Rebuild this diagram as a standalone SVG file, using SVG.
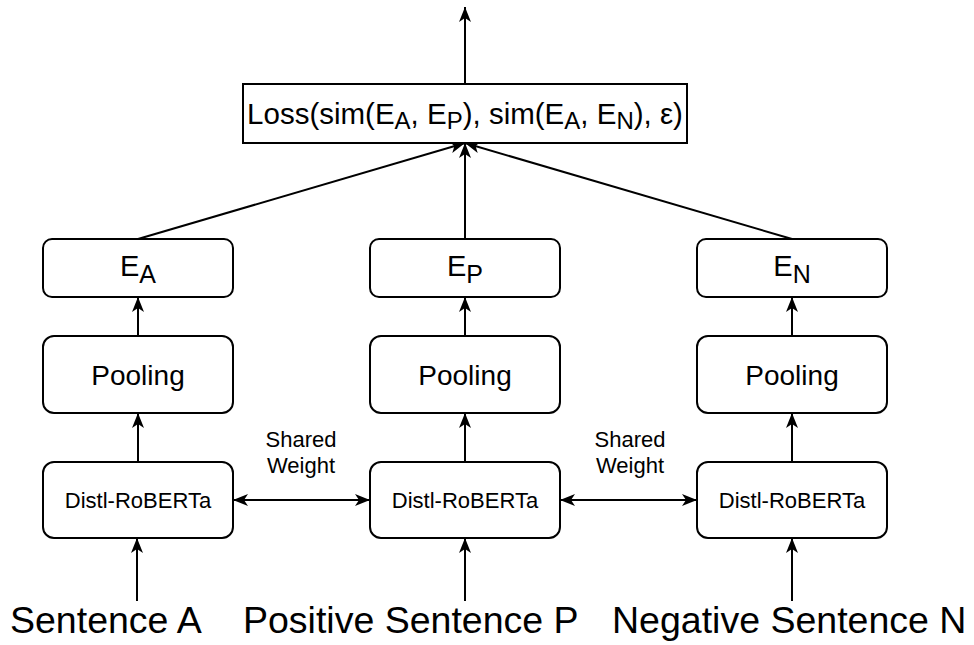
<svg xmlns="http://www.w3.org/2000/svg" width="974" height="645" viewBox="0 0 974 645">
  <defs>
    <marker id="arrow" viewBox="0 0 15 12" refX="15" refY="6" markerWidth="15" markerHeight="12" markerUnits="userSpaceOnUse" orient="auto-start-reverse">
      <path d="M0,0 L15,6 L0,12 L4,6 Z" fill="#000"/>
    </marker>
    <style>
      .box { fill: #fff; stroke: #000; stroke-width: 2; }
      .edge { fill: none; stroke: #000; stroke-width: 2; marker-end: url(#arrow); }
      .both { marker-start: url(#arrow); }
      text { font-family: "Liberation Sans", Arial, Helvetica, sans-serif; fill: #000; }
      .mid { text-anchor: middle; }
      .enc { font-size: 22px; }
      .pool { font-size: 28px; }
      .emb { font-size: 29px; }
      .loss { font-size: 29.5px; }
      .note { font-size: 22px; }
      .input { font-size: 37.5px; }
    </style>
  </defs>

  <!-- connectors -->
  <g id="connectors">
    <path class="edge" d="M465,84 L465,7"/>
    <path class="edge" d="M138,239 L465,143"/>
    <path class="edge" d="M465,239 L465,143"/>
    <path class="edge" d="M792,239 L465,143"/>
    <path class="edge" d="M138,336 L138,297"/>
    <path class="edge" d="M465,336 L465,297"/>
    <path class="edge" d="M792,336 L792,297"/>
    <path class="edge" d="M138,462 L138,413"/>
    <path class="edge" d="M465,462 L465,413"/>
    <path class="edge" d="M792,462 L792,413"/>
    <path class="edge" d="M137,601 L137,538"/>
    <path class="edge" d="M465,601 L465,538"/>
    <path class="edge" d="M792,601 L792,538"/>
    <path class="edge both" d="M233,500 L370,500"/>
    <path class="edge both" d="M560,500 L697,500"/>
  </g>

  <!-- loss node -->
  <g id="loss">
    <rect class="box" x="243" y="84" width="444" height="59"/>
    <text class="loss mid" x="465" y="124">Loss(sim(E<tspan font-size="24" dy="5">A</tspan><tspan dy="-5">, E</tspan><tspan font-size="24" dy="5">P</tspan><tspan dy="-5">), sim(E</tspan><tspan font-size="24" dy="5">A</tspan><tspan dy="-5">, E</tspan><tspan font-size="24" dy="5">N</tspan><tspan dy="-5">), ε)</tspan></text>
  </g>

  <!-- embeddings -->
  <g id="emb-a">
    <rect class="box" x="43" y="239" width="190" height="58" rx="9"/>
    <text class="emb mid" x="138" y="276">E<tspan font-size="25" dy="7">A</tspan></text>
  </g>
  <g id="emb-p">
    <rect class="box" x="370" y="239" width="190" height="58" rx="9"/>
    <text class="emb mid" x="465" y="276">E<tspan font-size="25" dy="7">P</tspan></text>
  </g>
  <g id="emb-n">
    <rect class="box" x="697" y="239" width="190" height="58" rx="9"/>
    <text class="emb mid" x="792" y="276">E<tspan font-size="25" dy="7">N</tspan></text>
  </g>

  <!-- pooling -->
  <g id="pool-a">
    <rect class="box" x="43" y="336" width="190" height="77" rx="11"/>
    <text class="pool mid" x="138" y="385">Pooling</text>
  </g>
  <g id="pool-p">
    <rect class="box" x="370" y="336" width="190" height="77" rx="11"/>
    <text class="pool mid" x="465" y="385">Pooling</text>
  </g>
  <g id="pool-n">
    <rect class="box" x="697" y="336" width="190" height="77" rx="11"/>
    <text class="pool mid" x="792" y="385">Pooling</text>
  </g>

  <!-- encoders -->
  <g id="enc-a">
    <rect class="box" x="43" y="462" width="190" height="76" rx="11"/>
    <text class="enc mid" x="138" y="508">Distl-RoBERTa</text>
  </g>
  <g id="enc-p">
    <rect class="box" x="370" y="462" width="190" height="76" rx="11"/>
    <text class="enc mid" x="465" y="508">Distl-RoBERTa</text>
  </g>
  <g id="enc-n">
    <rect class="box" x="697" y="462" width="190" height="76" rx="11"/>
    <text class="enc mid" x="792" y="508">Distl-RoBERTa</text>
  </g>

  <!-- shared weight notes -->
  <g id="shared-1">
    <text class="note mid" x="301" y="447">Shared</text>
    <text class="note mid" x="301" y="473">Weight</text>
  </g>
  <g id="shared-2">
    <text class="note mid" x="630" y="447">Shared</text>
    <text class="note mid" x="630" y="473">Weight</text>
  </g>

  <!-- inputs -->
  <g id="input-a">
    <text class="input" x="10" y="633">Sentence A</text>
  </g>
  <g id="input-p">
    <text class="input" x="243" y="633">Positive Sentence P</text>
  </g>
  <g id="input-n">
    <text class="input" x="612" y="633">Negative Sentence N</text>
  </g>
</svg>
